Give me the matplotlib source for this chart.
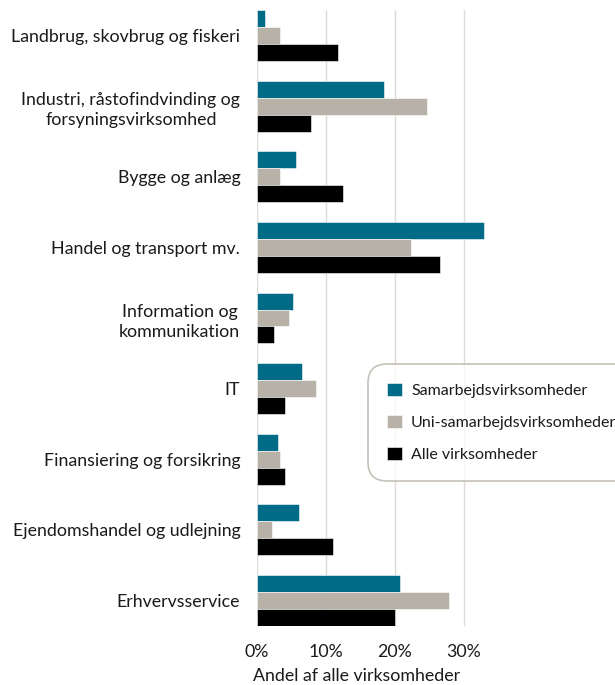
import numpy as np
import matplotlib.pyplot as plt
from matplotlib.ticker import FuncFormatter

# Data (andel af alle virksomheder, %)
categories = ['Landbrug, skovbrug og fiskeri',
              'Industri, råstofindvinding og\nforsyningsvirksomhed',
              'Bygge og anlæg',
              'Handel og transport mv.',
              'Information og\nkommunikation',
              'IT',
              'Finansiering og forsikring',
              'Ejendomshandel og udlejning',
              'Erhvervsservice']
samarbejds = [1.1, 18.4, 5.7, 33.0, 5.3, 6.6, 3.1, 6.1, 20.7]
uni_samarbejds = [3.3, 24.7, 3.3, 22.3, 4.6, 8.5, 3.4, 2.2, 27.9]
alle = [11.8, 7.8, 12.5, 26.6, 2.4, 4.1, 4.0, 11.0, 20.0]
series_names = ['Samarbejdsvirksomheder', 'Uni-samarbejdsvirksomheder', 'Alle virksomheder']

colors = ['#006b87', '#b7b1a7', '#000000']
txt = '#1a1a1a'

plt.rcParams['font.family'] = ['Lato', 'DejaVu Sans']

fig = plt.figure(figsize=(6.15, 6.85), dpi=100)
ax = fig.add_axes([257/615, 1-626/685, 1-257/615, (626-10)/685])

y = np.arange(len(categories))
h = 0.24
for i, (vals, c, name) in enumerate(zip([samarbejds, uni_samarbejds, alle], colors, series_names)):
    ax.barh(y + (i - 1) * h, vals, height=h, color=c, label=name,
            edgecolor='white', linewidth=0.4, zorder=3)

ax.set_ylim(len(categories) - 1 + 0.36, -0.36)
ax.set_xlim(0, 52)
ax.set_xticks([0, 10, 20, 30])
ax.xaxis.set_major_formatter(FuncFormatter(lambda v, p: f'{int(v)}%'))
ax.set_yticks(y)
ax.set_yticklabels(categories, fontsize=12.8, color=txt)
ax.tick_params(axis='both', length=0, labelsize=12.8, colors=txt)
ax.tick_params(axis='y', pad=12)
ax.tick_params(axis='x', pad=13)
for lbl in ax.get_yticklabels():
    lbl.set_multialignment('center')
    lbl.set_linespacing(1.35)

ax.grid(axis='x', color='#dcdbd6', linewidth=1, zorder=0)
for s in ax.spines.values():
    s.set_visible(False)

fig.text(357/615, 1-676/685, 'Andel af alle virksomheder', ha='center', va='center',
         fontsize=12.8, color=txt)

leg = ax.legend(loc='upper left', bbox_to_anchor=(368/615, 1-364/685),
                bbox_transform=fig.transFigure, frameon=True, fancybox=True,
                borderaxespad=0, fontsize=11.5, handlelength=0.9, handleheight=0.9,
                borderpad=1.2, labelspacing=1.05, handletextpad=0.6)
leg.get_frame().set_edgecolor('#b7b1a7')
leg.get_frame().set_linewidth(1.2)
leg.get_frame().set_boxstyle('round,pad=0,rounding_size=1.2')
for t in leg.get_texts():
    t.set_color(txt)

fig.savefig('out.png', dpi=100)
